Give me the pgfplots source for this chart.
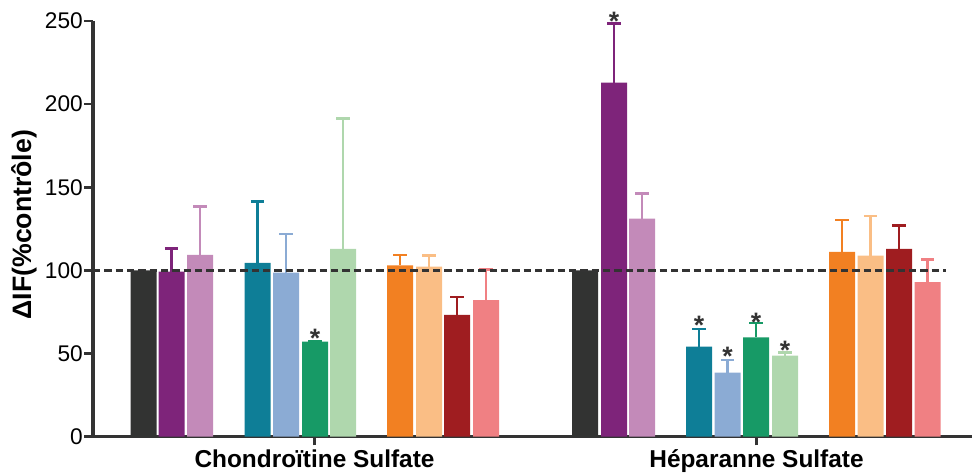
\documentclass[border=0pt]{standalone}
\usepackage{fontspec}
\setmainfont{Liberation Sans}
\usepackage{pgfplots}
\pgfplotsset{compat=1.18}
\definecolor{axcol}{HTML}{333333}
\definecolor{c1}{HTML}{323332}
\definecolor{c2}{HTML}{7E247A}
\definecolor{c3}{HTML}{C38AB9}
\definecolor{c4}{HTML}{0E7E97}
\definecolor{c5}{HTML}{8BABD4}
\definecolor{c6}{HTML}{179A66}
\definecolor{c7}{HTML}{AFD7AD}
\definecolor{c8}{HTML}{F28022}
\definecolor{c9}{HTML}{FABE85}
\definecolor{c10}{HTML}{9F1D20}
\definecolor{c11}{HTML}{F08083}
\pgfplotsset{
  mybar/.style={ybar, bar width=26, bar shift=0pt, fill=#1, draw=none,
    error bars/.cd, y dir=plus, y explicit,
    error bar style={draw=#1, line width=2.1pt, solid},
    error mark options={rotate=90, mark size=4.9pt, line width=1.9pt, draw=#1, solid}},
}
\begin{document}
\begin{tikzpicture}
\useasboundingbox (0,0) rectangle (729pt,354.75pt);
\begin{axis}[
  at={(69.75pt,27.225pt)}, anchor=south west,
  scale only axis, width=659.25pt, height=311.775pt,
  xmin=93, xmax=972, ymin=0, ymax=250,
  clip=false,
  axis x line*=bottom, axis y line*=left,
  axis line style={line width=2.3pt, color=axcol},
  tick style={line width=2pt, color=axcol},
  tick align=outside, major tick length=6.5pt,
  ytick={0,50,100,150,200,250},
  xtick={314.5,756.5},
  xticklabels={Chondroïtine Sulfate, Héparanne Sulfate},
  /pgf/number format/assume math mode=true,
  yticklabel style={font=\fontsize{17}{17}\selectfont, text=black, inner sep=1pt},
  xticklabel style={font=\bfseries\fontsize{18.3}{18.3}\selectfont, text=black},
  ylabel={ΔIF(\%contrôle)},
  ylabel style={font=\bfseries\fontsize{20}{20}\selectfont, at={(axis description cs:-0.0785,0.51)}, anchor=center, rotate=0},
]
\addplot[mybar=c1] coordinates {(143.5,100) (585,100)};
\addplot[mybar=c2] coordinates {(171.5,99.2) +- (0,14.1) (614,212.9) +- (0,35.7)};
\addplot[mybar=c3] coordinates {(200,109.3) +- (0,29) (642,131.1) +- (0,15.3)};
\addplot[mybar=c4] coordinates {(257.5,104.6) +- (0,36.7) (699,54.1) +- (0,10.7)};
\addplot[mybar=c5] coordinates {(286,98.6) +- (0,23.3) (727.5,38.5) +- (0,7.6)};
\addplot[mybar=c6] coordinates {(315,57.1) +- (0,0) (756,59.8) +- (0,8.6)};
\addplot[mybar=c7] coordinates {(343,112.9) +- (0,78.5) (785,48.7) +- (0,1.8)};
\addplot[mybar=c8] coordinates {(400,103.1) +- (0,6.2) (842,111.1) +- (0,19.2)};
\addplot[mybar=c9] coordinates {(429,102.3) +- (0,6.6) (870.5,108.9) +- (0,23.8)};
\addplot[mybar=c10] coordinates {(457,73.2) +- (0,10.8) (899,112.9) +- (0,14.2)};
\addplot[mybar=c11] coordinates {(486,82.2) +- (0,18.4) (927.5,93) +- (0,13.7)};
\addplot[axcol, line width=2.2pt, dash pattern=on 5.5pt off 3pt, mark=none] coordinates {(93,100) (946,100)};
\addplot[draw=none, mark=none, nodes near coords={*},
  every node near coord/.style={anchor=base, inner sep=0pt, text=axcol, font=\bfseries\fontsize{20}{20}\selectfont}]
  coordinates {(315,53.9) (614,244.2) (699,61.4) (727.5,42.7) (756,63.4) (785,46.2)};
\end{axis}
\end{tikzpicture}
\end{document}
